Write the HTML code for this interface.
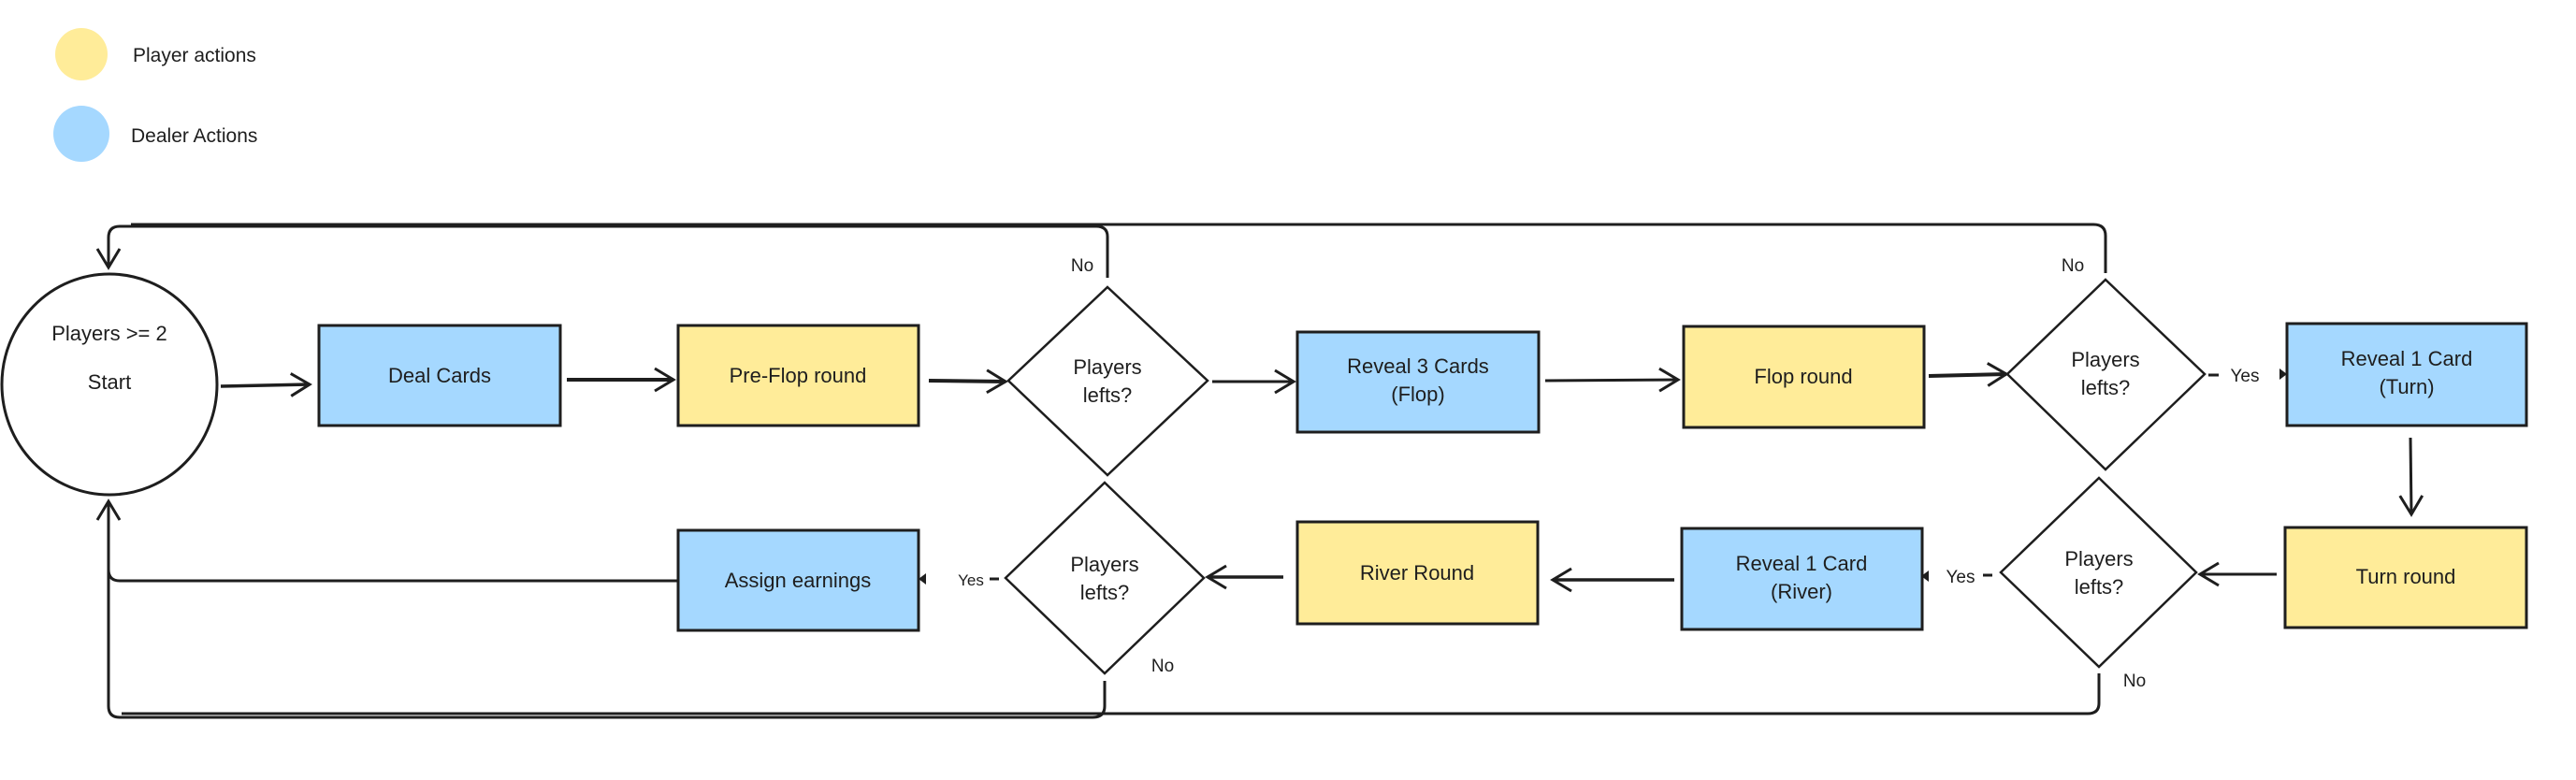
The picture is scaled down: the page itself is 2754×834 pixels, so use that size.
<!DOCTYPE html>
<html><head><meta charset="utf-8"><style>
html,body{margin:0;padding:0;background:#fff;}
svg{display:block;}
text{font-family:"Liberation Sans",sans-serif;fill:#1e1e1e;}
</style></head><body>
<svg width="2754" height="834" viewBox="0 0 2754 834" xmlns="http://www.w3.org/2000/svg">
<defs>
<marker id="a" markerWidth="14" markerHeight="14" refX="12" refY="7" orient="auto" markerUnits="userSpaceOnUse">
<path d="M0,-10 L24,7 L0,24" fill="none" stroke="#1e1e1e" stroke-width="3" transform="scale(0.5) translate(0,7)"/>
</marker>
<marker id="b" markerWidth="30" markerHeight="30" refX="24" refY="15" orient="auto" markerUnits="userSpaceOnUse">
<path d="M4,3 L24,15 L4,27" fill="none" stroke="#1e1e1e" stroke-width="3"/>
</marker>
</defs>
<!-- legend -->
<circle cx="87" cy="58" r="28" fill="#ffec99"/>
<circle cx="87" cy="143" r="30" fill="#a5d8ff"/>
<text x="142" y="66" font-size="21">Player actions</text>
<text x="140" y="152" font-size="21">Dealer Actions</text>

<g stroke="#1e1e1e" stroke-width="3" fill="none">
<!-- start circle -->
<ellipse cx="117" cy="411" rx="115" ry="118" fill="#fff"/>
<!-- boxes -->
<rect x="341" y="348" width="258" height="107" fill="#a5d8ff"/>
<rect x="725" y="348" width="257" height="107" fill="#ffec99"/>
<rect x="1387" y="355" width="258" height="107" fill="#a5d8ff"/>
<rect x="1800" y="349" width="257" height="108" fill="#ffec99"/>
<rect x="2445" y="346" width="256" height="109" fill="#a5d8ff"/>
<rect x="2443" y="564" width="258" height="107" fill="#ffec99"/>
<rect x="1798" y="565" width="257" height="108" fill="#a5d8ff"/>
<rect x="1387" y="558" width="257" height="109" fill="#ffec99"/>
<rect x="725" y="567" width="257" height="107" fill="#a5d8ff"/>
<!-- diamonds -->
<polygon points="1184,307 1291,407 1184,508 1078,407" fill="#fff" stroke-width="2.5"/>
<polygon points="2251,299 2357,400 2251,502 2146,400" fill="#fff" stroke-width="2.5"/>
<polygon points="2244,511 2348,612 2244,713 2139,612" fill="#fff" stroke-width="2.5"/>
<polygon points="1181,516 1287,618 1181,720 1075,618" fill="#fff" stroke-width="2.5"/>
<!-- arrows -->
<path d="M236,413 L331,411" marker-end="url(#b)" stroke-width="3.5"/>
<path d="M606,406 L720,406" marker-end="url(#b)" stroke-width="4"/>
<path d="M993,407 L1075,408" marker-end="url(#b)" stroke-width="4"/>
<path d="M1296,408 L1383,408" marker-end="url(#b)"/>
<path d="M1652,407 L1794,406" marker-end="url(#b)"/>
<path d="M2062,402 L2145,400" marker-end="url(#b)" stroke-width="4"/>
<path d="M2577,468 L2578,550" marker-end="url(#b)"/>
<path d="M2434,614 L2352,614" marker-end="url(#b)"/>
<path d="M1790,620 L1660,620" marker-end="url(#b)" stroke-width="3.5"/>
<path d="M1372,617 L1291,617" marker-end="url(#b)" stroke-width="3.5"/>
<!-- top loop -->
<path d="M1184,297 L1184,253 Q1184,242 1172,242 L128,242 Q116,242 116,254 L116,286" marker-end="url(#b)"/>
<path d="M2251,292 L2251,252 Q2251,240 2238,240 L140,240"/>
<!-- bottom loop -->
<path d="M725,621 L128,621 Q116,621 116,609 L116,536" marker-end="url(#b)"/>
<path d="M1181,728 L1181,755 Q1181,767 1168,767 L128,767 Q116,767 116,755 L116,600"/>
<path d="M2244,720 L2244,752 Q2244,763 2232,763 L130,763"/>
<!-- yes dashes -->
<path d="M2361,401 L2372,401"/>
<path d="M2120,615 L2130,615"/>
<path d="M1058,619 L1068,619"/>
</g>
<g fill="#1e1e1e">
<path d="M2437,394 L2445,400 L2437,406 Z"/>
<path d="M2062,610 L2054,616 L2062,622 Z"/>
<path d="M990,613 L982,619 L990,625 Z"/>
</g>
<g font-size="22" text-anchor="middle">
<text x="117" y="364">Players &gt;= 2</text>
<text x="117" y="416">Start</text>
<text x="470" y="409">Deal Cards</text>
<text x="853" y="409">Pre-Flop round</text>
<text x="1184" y="400">Players</text>
<text x="1184" y="430">lefts?</text>
<text x="1516" y="399">Reveal 3 Cards</text>
<text x="1516" y="429">(Flop)</text>
<text x="1928" y="410">Flop round</text>
<text x="2251" y="392">Players</text>
<text x="2251" y="422">lefts?</text>
<text x="2573" y="391">Reveal 1 Card</text>
<text x="2573" y="421">(Turn)</text>
<text x="2572" y="624">Turn round</text>
<text x="2244" y="605">Players</text>
<text x="2244" y="635">lefts?</text>
<text x="1926" y="610">Reveal 1 Card</text>
<text x="1926" y="640">(River)</text>
<text x="1515" y="620">River Round</text>
<text x="1181" y="611">Players</text>
<text x="1181" y="641">lefts?</text>
<text x="853" y="628">Assign earnings</text>
</g>
<g font-size="19" text-anchor="middle">
<text x="1157" y="290">No</text>
<text x="2216" y="290">No</text>
<text x="1243" y="718">No</text>
<text x="2282" y="734">No</text>
<text x="2400" y="408">Yes</text>
<text x="2096" y="623">Yes</text>
<text x="1038" y="626" font-size="17">Yes</text>
</g>
</svg>
</body></html>
